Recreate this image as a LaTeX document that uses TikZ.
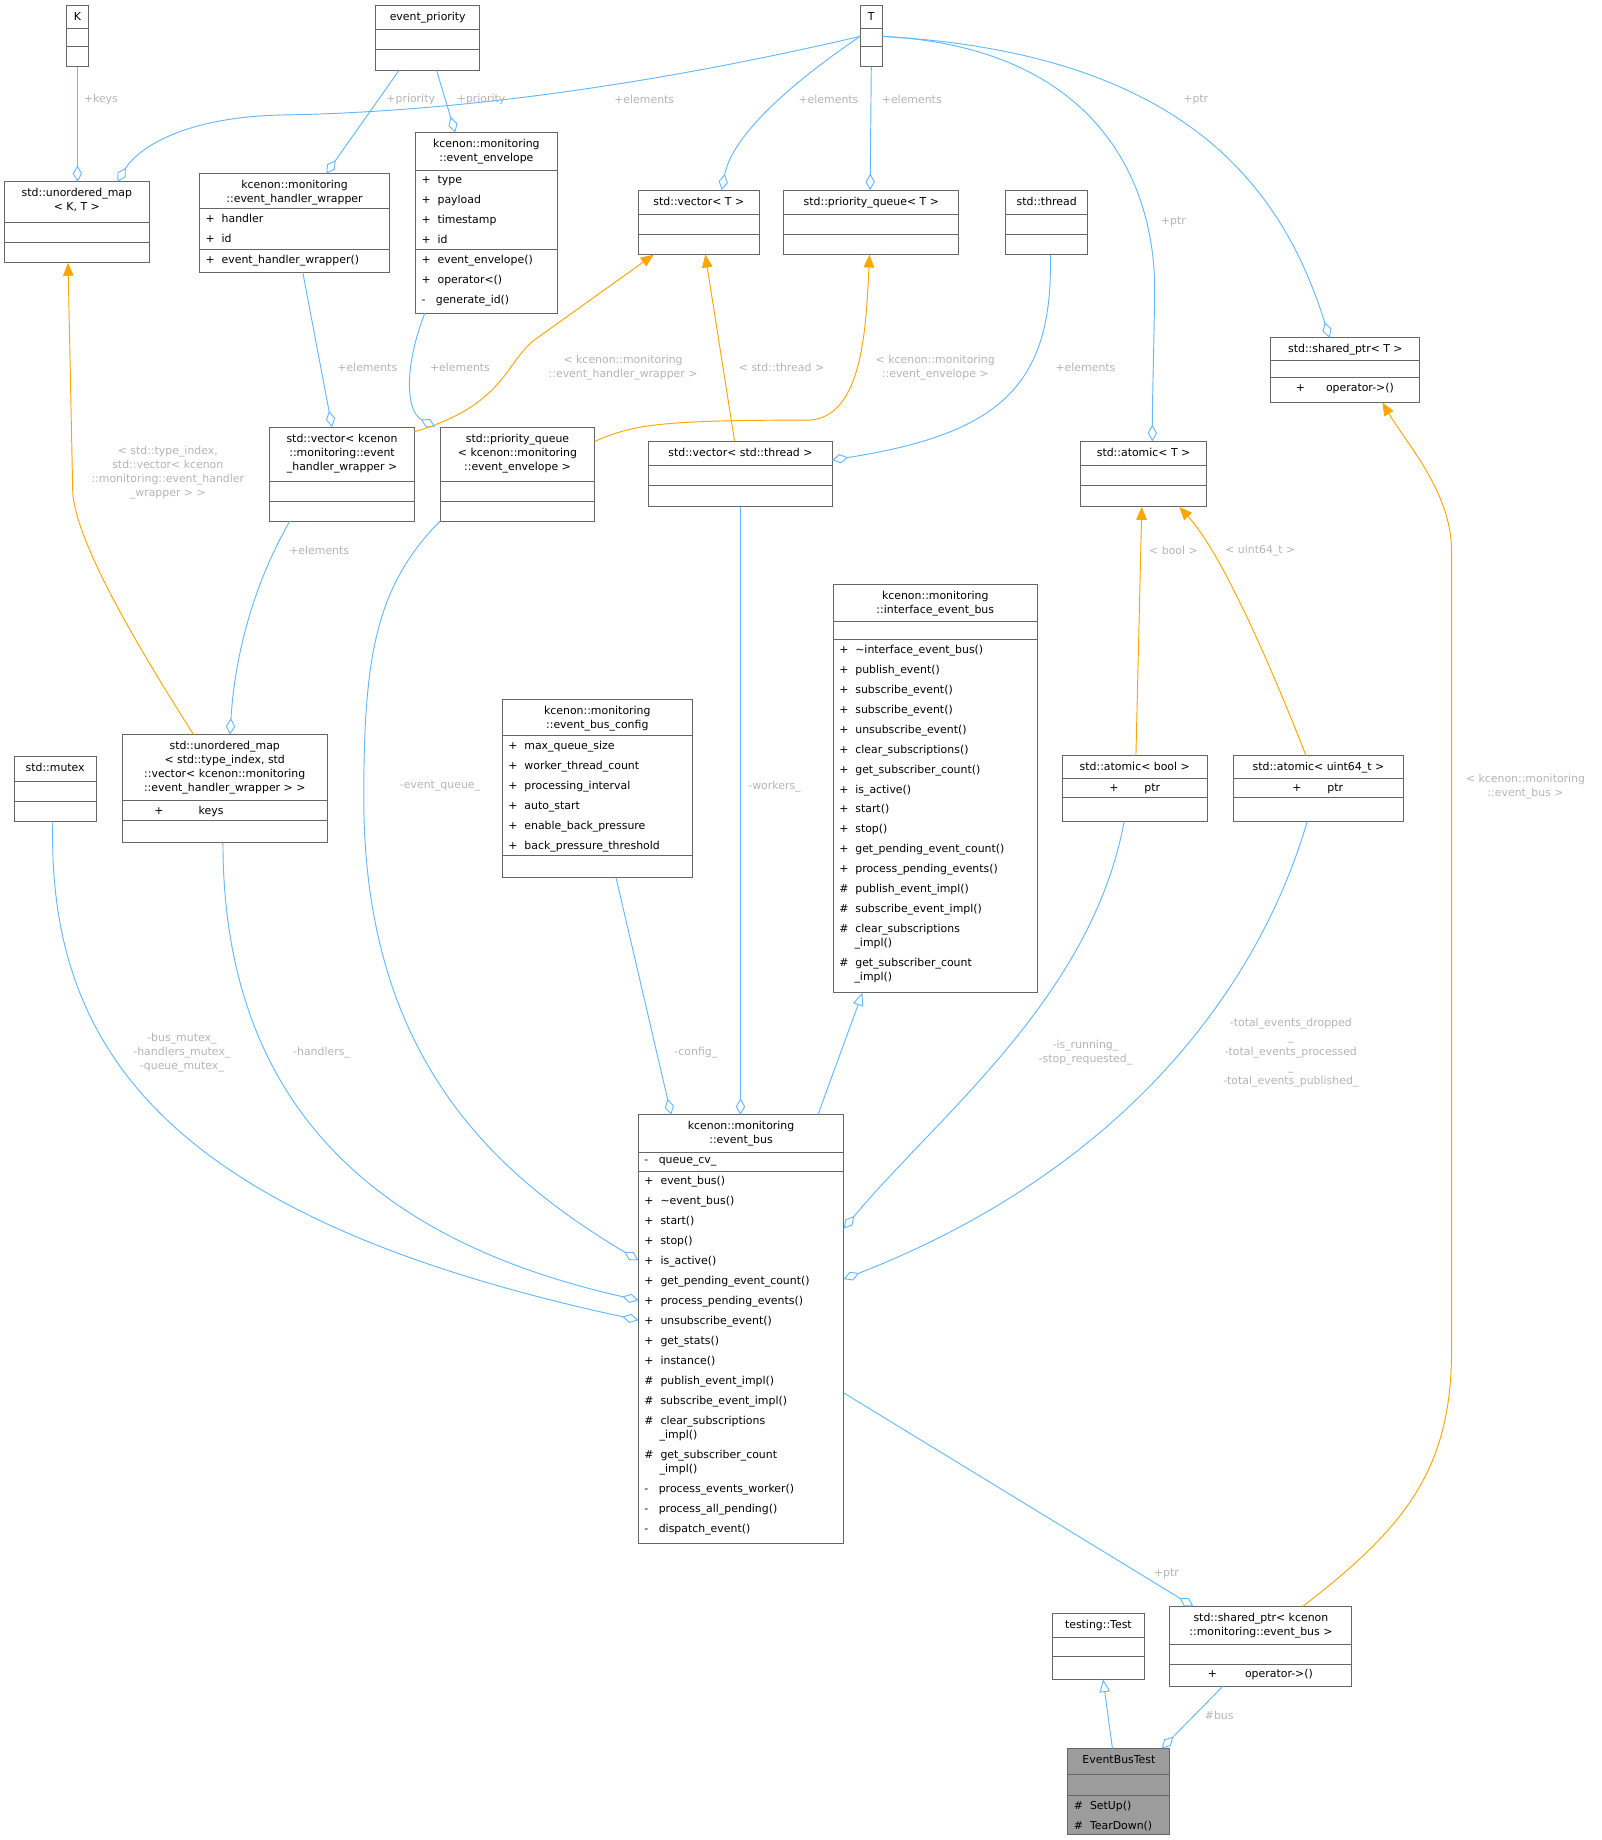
\documentclass[tikz,border=0pt]{standalone}
\usepackage{fontspec}
\setmainfont{DejaVu Sans}
\usetikzlibrary{arrows.meta}
\definecolor{boxc}{HTML}{666666}
\definecolor{bl}{HTML}{63B8FF}
\definecolor{og}{HTML}{FFA500}
\definecolor{lab}{HTML}{B4B4B4}
\newcommand\ubox[9][white]{%
 \node[draw=boxc, fill=#1, line width=.8pt, anchor=north west, inner sep=0, outer sep=0,
   minimum width={(#5-#3)*1pt}, minimum height={(#6-#4)*1pt}] (#2) at (#3,#4) {};
 \draw[boxc, line width=.8pt] (#3,#7) -- (#5,#7) (#3,#8) -- (#5,#8);
 \node[anchor=north, inner sep=0, align=center] at ({(#3+#5)/2},{#4+5.5}) {#9};}
\newcommand\items[3]{\node[anchor=north west, inner sep=0, align=left] at ({#1+5},{#2+4.5}) {#3};}
\newcommand\citem[3]{\node[anchor=north, inner sep=0] at (#1,{#2+4.5}) {#3};}
\newcommand\nx{\\[5pt]}
\newcommand\wrp{\\\hspace{13pt}}
\begin{document}
\begin{tikzpicture}[x=1pt,y=-1pt,font=\fontsize{9.3}{12}\selectfont,
  agg/.style={draw=bl, line width=.8pt, -{Diamond[open,length=14pt,width=8pt]}},
  inh/.style={draw=bl, line width=.8pt, -{Triangle[open,length=11pt,width=9pt]}},
  tpl/.style={draw=og, line width=.8pt, -{Triangle[length=11pt,width=9pt]}},
  lb/.style={text=lab, align=center, inner sep=1pt}]
\useasboundingbox (0,0) rectangle (1365,1568);
% boxes
\ubox{K}{57}{5}{75}{57}{24}{40}{K}
\ubox{ep}{320}{5}{409}{60}{25}{42}{event\_priority}
\ubox{T}{733}{5}{752}{57}{24}{40}{T}
\ubox{umap}{4}{155}{127}{224}{190}{207}{std::unordered\_map\\< K, T >}
\ubox{ehw}{170}{148}{332}{232}{178}{213}{kcenon::monitoring\\::event\_handler\_wrapper}
\items{170}{178}{+\ \ handler\nx+\ \ id}
\items{170}{213}{+\ \ event\_handler\_wrapper()}
\ubox{env}{354}{113}{475}{267}{145}{213}{kcenon::monitoring\\::event\_envelope}
\items{354}{145}{+\ \ type\nx+\ \ payload\nx+\ \ timestamp\nx+\ \ id}
\items{354}{213}{+\ \ event\_envelope()\nx+\ \ operator<()\nx-\ \ \ generate\_id()}
\ubox{vecT}{544}{162}{647}{217}{183}{200}{std::vector< T >}
\ubox{pqT}{668}{162}{817}{217}{183}{200}{std::priority\_queue< T >}
\ubox{thr}{857}{162}{927}{217}{183}{200}{std::thread}
\ubox{sptrT}{1083}{288}{1210}{343}{307}{322}{std::shared\_ptr< T >}
\citem{1146}{322}{+\hspace{18pt}operator->()}
\ubox{atomT}{921}{376}{1028}{432}{397}{414}{std::atomic< T >}
\ubox{vecEhw}{230}{364}{353}{444}{410}{427}{std::vector< kcenon\\::monitoring::event\\\_handler\_wrapper >}
\ubox{pqEnv}{375}{364}{507}{444}{410}{427}{std::priority\_queue\\< kcenon::monitoring\\::event\_envelope >}
\ubox{vecThr}{553}{376}{709}{432}{397}{414}{std::vector< std::thread >}
\ubox{umapTI}{104}{626}{279}{718}{682}{699}{std::unordered\_map\\< std::type\_index, std\\::vector< kcenon::monitoring\\::event\_handler\_wrapper > >}
\citem{161}{682}{+\hspace{30pt}keys}
\ubox{mtx}{12}{645}{82}{700}{666}{683}{std::mutex}
\ubox{cfg}{428}{596}{590}{748}{627}{729}{kcenon::monitoring\\::event\_bus\_config}
\items{428}{627}{+\ \ max\_queue\_size\nx+\ \ worker\_thread\_count\nx+\ \ processing\_interval\nx+\ \ auto\_start\nx+\ \ enable\_back\_pressure\nx+\ \ back\_pressure\_threshold}
\ubox{ieb}{710}{498}{884}{846}{530}{545}{kcenon::monitoring\\::interface\_event\_bus}
\items{710}{545}{+\ \ \textasciitilde interface\_event\_bus()\nx+\ \ publish\_event()\nx+\ \ subscribe\_event()\nx+\ \ subscribe\_event()\nx+\ \ unsubscribe\_event()\nx+\ \ clear\_subscriptions()\nx+\ \ get\_subscriber\_count()\nx+\ \ is\_active()\nx+\ \ start()\nx+\ \ stop()\nx+\ \ get\_pending\_event\_count()\nx+\ \ process\_pending\_events()\nx\#\ \ publish\_event\_impl()\nx\#\ \ subscribe\_event\_impl()\nx\#\ \ clear\_subscriptions\wrp\_impl()\nx\#\ \ get\_subscriber\_count\wrp\_impl()}
\ubox{atomB}{905}{644}{1029}{700}{663}{680}{std::atomic< bool >}
\citem{967}{663}{+\hspace{22pt}ptr}
\ubox{atomU}{1051}{644}{1196}{700}{663}{680}{std::atomic< uint64\_t >}
\citem{1123}{663}{+\hspace{22pt}ptr}
\ubox{eb}{544}{950}{719}{1315}{982}{998}{kcenon::monitoring\\::event\_bus}
\items{544}{982}{-\ \ \ queue\_cv\_}
\items{544}{998}{+\ \ event\_bus()\nx+\ \ \textasciitilde event\_bus()\nx+\ \ start()\nx+\ \ stop()\nx+\ \ is\_active()\nx+\ \ get\_pending\_event\_count()\nx+\ \ process\_pending\_events()\nx+\ \ unsubscribe\_event()\nx+\ \ get\_stats()\nx+\ \ instance()\nx\#\ \ publish\_event\_impl()\nx\#\ \ subscribe\_event\_impl()\nx\#\ \ clear\_subscriptions\wrp\_impl()\nx\#\ \ get\_subscriber\_count\wrp\_impl()\nx-\ \ \ process\_events\_worker()\nx-\ \ \ process\_all\_pending()\nx-\ \ \ dispatch\_event()}
\ubox{test}{897}{1375}{975}{1431}{1395}{1412}{testing::Test}
\ubox{sptrEb}{997}{1369}{1152}{1437}{1401}{1418}{std::shared\_ptr< kcenon\\::monitoring::event\_bus >}
\citem{1074}{1418}{+\hspace{24pt}operator->()}
\ubox[boxc!65]{ebt}{910}{1490}{997}{1563}{1512}{1530}{EventBusTest}
\items{910}{1530}{\#\ \ SetUp()\nx\#\ \ TearDown()}
% blue aggregation edges
\draw[agg] (K.south) -- ([xshift=62pt]umap.north west);
\draw[agg] (T.west) .. controls (600,62) and (420,95) .. (240,98) .. controls (150,100) and (115,130) .. ([xshift=96pt]umap.north west);
\draw[agg] ([xshift=20pt]ep.south west) -- ([xshift=108pt]ehw.north west);
\draw[agg] ([xshift=52pt]ep.south west) -- ([xshift=34pt]env.north west);
\draw[agg] (T.west) .. controls (690,60) and (625,110) .. ([xshift=71pt]vecT.north west);
\draw[agg] (T.south) -- ([xshift=-1pt]pqT.north);
\draw[agg] (T.east) .. controls (930,40) and (985,150) .. (984,250) .. controls (983,310) and (982,340) .. ([xshift=61pt]atomT.north west);
\draw[agg] (T.east) .. controls (1000,45) and (1090,150) .. ([xshift=50pt]sptrT.north west);
\draw[agg] ([xshift=88pt]ehw.south west) -- ([xshift=53pt]vecEhw.north west);
\draw[agg] ([xshift=8pt]env.south west) .. controls (345,310) and (345,350) .. ([xshift=-4pt]pqEnv.north west);
\draw[agg] ([xshift=38pt]thr.south west) .. controls (898,330) and (850,370) .. ([yshift=-16pt]vecThr.north east);
\draw[agg] ([xshift=17pt]vecEhw.south west) .. controls (215,500) and (200,560) .. ([xshift=92pt]umapTI.north west);
\draw[agg] ([xshift=33pt]mtx.south west) .. controls (40,900) and (150,1040) .. ([yshift=-175pt]eb.north west);
\draw[agg] ([xshift=86pt]umapTI.south west) .. controls (190,950) and (330,1060) .. ([yshift=-158pt]eb.north west);
\draw[agg] (pqEnv.south west) .. controls (320,500) and (310,560) .. (310,680) .. controls (310,900) and (420,1000) .. ([yshift=-124pt]eb.north west);
\draw[agg] ([xshift=78pt]vecThr.south west) -- ([xshift=87pt]eb.north west);
\draw[agg] ([xshift=97pt]cfg.south west) -- ([xshift=28pt]eb.north west);
\draw[agg] ([xshift=53pt]atomB.south west) .. controls (930,850) and (800,950) .. ([yshift=-97pt]eb.north east);
\draw[agg] ([xshift=63pt]atomU.south west) .. controls (1070,850) and (950,1000) .. ([yshift=-140pt]eb.north east);
\draw[agg] ([yshift=-237pt]eb.north east) -- ([xshift=20pt]sptrEb.north west);
\draw[agg] ([xshift=45pt]sptrEb.south west) -- ([xshift=80pt]ebt.north west);
% inheritance
\draw[inh] ([xshift=153pt]eb.north west) -- ([xshift=25pt]ieb.south west);
\draw[inh] ([xshift=38pt]ebt.north west) -- ([xshift=43pt]test.south west);
% template instantiation
\draw[tpl] ([yshift=-4pt]vecEhw.north east) .. controls (430,345) and (430,310) .. (455,290) -- ([xshift=13pt]vecT.south west);
\draw[tpl] ([xshift=73pt]vecThr.north west) -- ([xshift=57pt]vecT.south west);
\draw[tpl] ([yshift=-12pt]pqEnv.north east) .. controls (540,362) and (560,358) .. (690,358) .. controls (735,355) and (738,280) .. ([xshift=73pt]pqT.south west);
\draw[tpl] ([xshift=61pt]umapTI.north west) .. controls (110,540) and (65,460) .. (62,420) -- ([xshift=54pt]umap.south west);
\draw[tpl] ([xshift=63pt]atomB.north west) -- ([xshift=52pt]atomT.south west);
\draw[tpl] ([xshift=62pt]atomU.north west) .. controls (1080,560) and (1040,470) .. ([xshift=84pt]atomT.south west);
\draw[tpl] ([xshift=113pt]sptrEb.north west) .. controls (1200,1300) and (1237,1250) .. (1237,1150) -- (1237,470) .. controls (1237,420) and (1200,380) .. ([xshift=95pt]sptrT.south west);
% labels
\node[lb] at (86,85) {+keys};
\node[lb] at (549,85) {+elements};
\node[lb] at (350,85) {+priority};
\node[lb] at (410,85) {+priority};
\node[lb] at (706,85) {+elements};
\node[lb] at (777,85) {+elements};
\node[lb] at (1019,85) {+ptr};
\node[lb] at (1000,189) {+ptr};
\node[lb] at (313,313) {+elements};
\node[lb] at (392,313) {+elements};
\node[lb] at (925,313) {+elements};
\node[lb] at (272,469) {+elements};
\node[lb] at (531,313) {< kcenon::monitoring\\::event\_handler\_wrapper >};
\node[lb] at (666,313) {< std::thread >};
\node[lb] at (797,313) {< kcenon::monitoring\\::event\_envelope >};
\node[lb] at (143,403) {< std::type\_index,\\std::vector< kcenon\\::monitoring::event\_handler\\\_wrapper > >};
\node[lb] at (1000,469) {< bool >};
\node[lb] at (1074,469) {< uint64\_t >};
\node[lb] at (1300,670) {< kcenon::monitoring\\::event\_bus >};
\node[lb] at (155,897) {-bus\_mutex\_\\-handlers\_mutex\_\\-queue\_mutex\_};
\node[lb] at (274,897) {-handlers\_};
\node[lb] at (375,670) {-event\_queue\_};
\node[lb] at (660,670) {-workers\_};
\node[lb] at (593,897) {-config\_};
\node[lb] at (925,897) {-is\_running\_\\-stop\_requested\_};
\node[lb, font=\fontsize{9.3}{12.5}\selectfont] at (1100,897) {-total\_events\_dropped\\\_\\-total\_events\_processed\\\_\\-total\_events\_published\_};
\node[lb] at (994,1341) {+ptr};
\node[lb] at (1039,1462) {\#bus};
\end{tikzpicture}
\end{document}
